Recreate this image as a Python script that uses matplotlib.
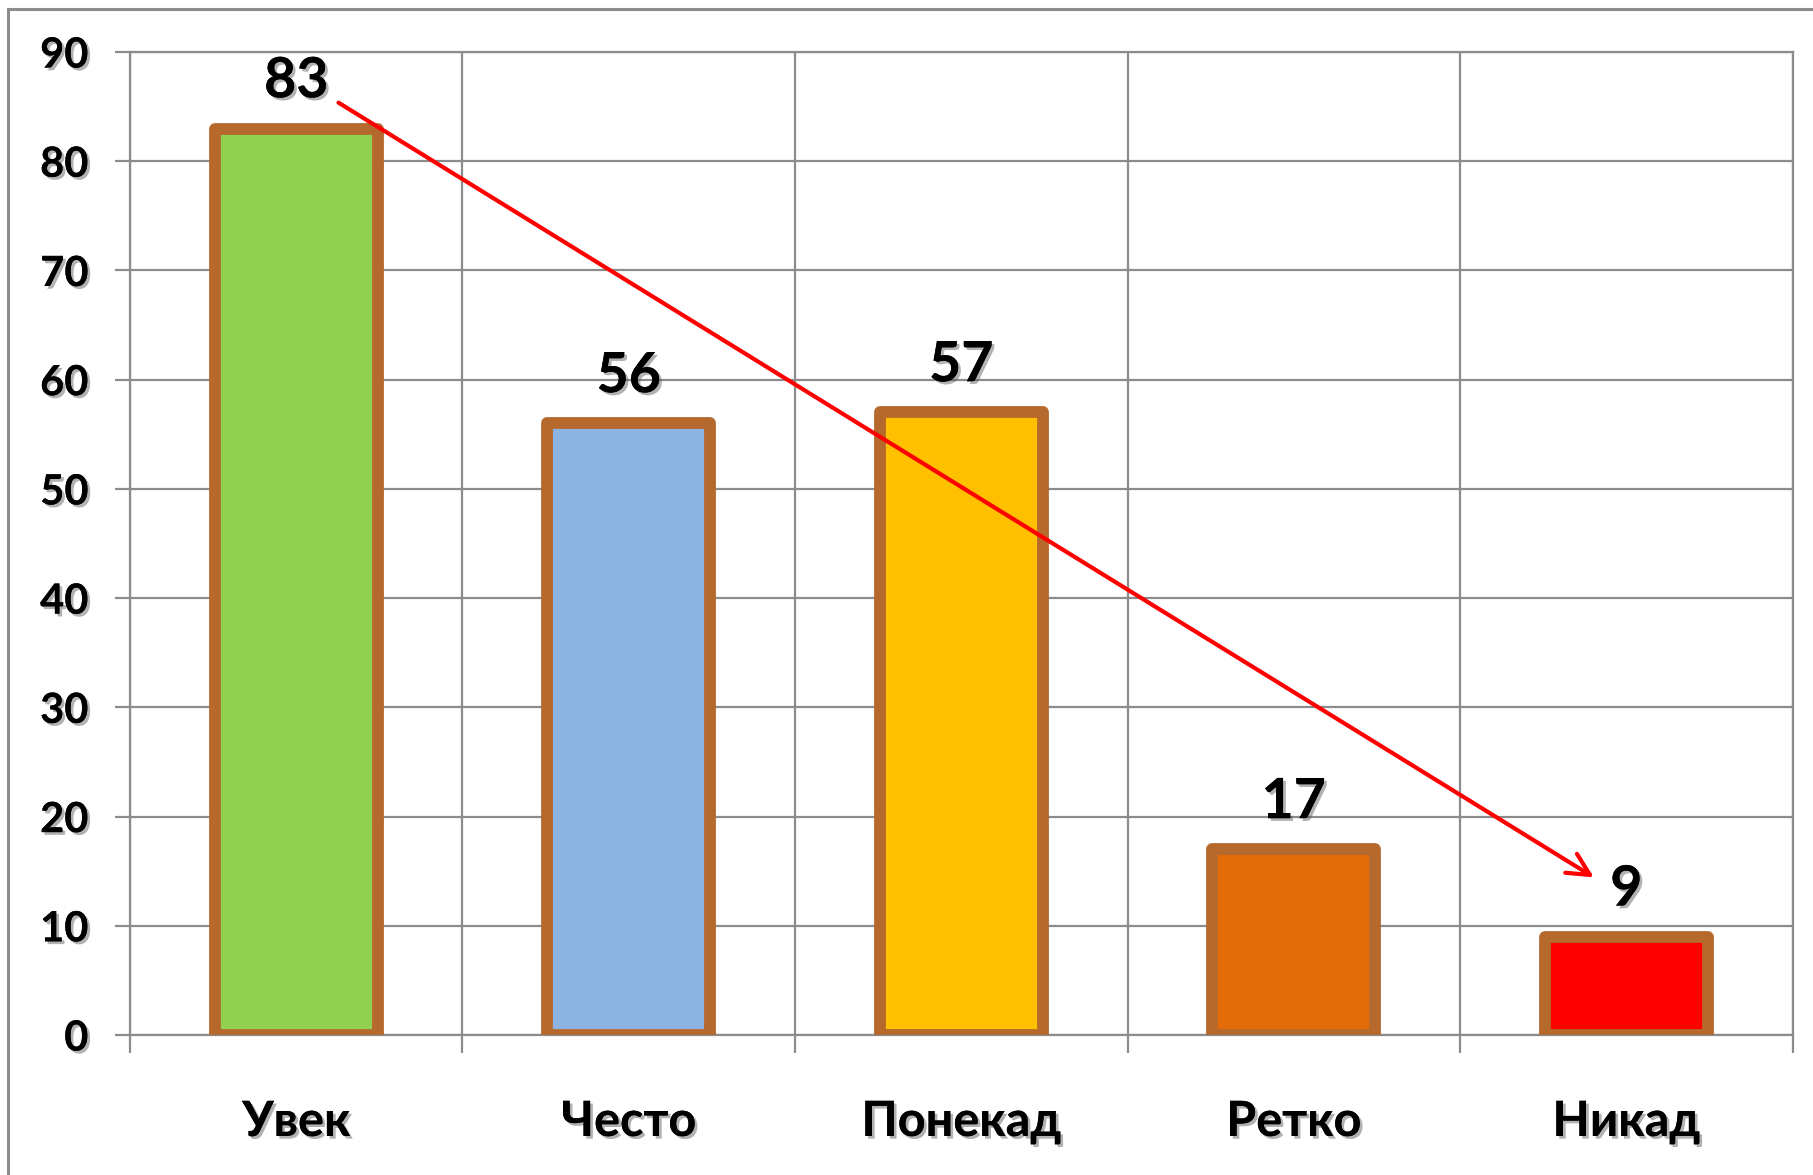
import matplotlib
matplotlib.use("Agg")
import matplotlib.pyplot as plt
import matplotlib.patheffects as pe
from matplotlib.patches import Rectangle

categories = ["Увек", "Често", "Понекад", "Ретко", "Никад"]
values = [83, 56, 57, 17, 9]
colors = ["#92D050", "#8DB3E2", "#FFC000", "#E36C09", "#FF0000"]
yticks = [0, 10, 20, 30, 40, 50, 60, 70, 80, 90]

edge = "#B5692C"
grid = "#8C8C8C"
shadow = [pe.withSimplePatchShadow(offset=(2, -2), shadow_rgbFace="#555555", alpha=0.45), pe.Normal()]

plt.rcParams['font.family'] = ['Lato', 'DejaVu Sans']

fig = plt.figure(figsize=(18.13, 11.75), dpi=100)
ax = fig.add_axes([0.0717, 0.1191, 0.917, 0.8366])

# outer chart frame
fig.patches.append(Rectangle((8 / 1813, -0.1), 1.2, 1 - 9 / 1175 + 0.1, transform=fig.transFigure,
                             fill=False, edgecolor=grid, linewidth=2.2))

x = list(range(len(categories)))
ax.bar(x, values, width=0.49, color=colors, edgecolor=edge, linewidth=8.5, joinstyle="round", zorder=3)

for i, v in enumerate(values):
    t = ax.annotate(str(v), (i, v), xytext=(0, 16), textcoords="offset points", ha="center", va="bottom",
                    fontsize=40, fontweight="bold", color="black", zorder=5)
    t.set_path_effects(shadow)

ax.set_xlim(-0.5, 4.5)
ax.set_ylim(0, 90)
ax.set_yticks(yticks)
ax.set_yticklabels([str(t) for t in yticks], fontsize=30, fontweight="bold")
ax.set_xticks(x)
ax.set_xticklabels(categories, fontsize=35, fontweight="bold")
ax.set_xticks([i - 0.5 for i in range(len(categories) + 1)], minor=True)
ax.tick_params(axis="x", which="major", length=0, pad=46)
ax.tick_params(axis="x", which="minor", length=13, width=1.6, color=grid, direction="out")
ax.tick_params(axis="y", length=11, width=1.6, color=grid, pad=19)
for lab in ax.get_xticklabels() + ax.get_yticklabels():
    lab.set_path_effects(shadow)

ax.grid(True, axis="y", which="major", color=grid, linewidth=1.6, zorder=0)
ax.grid(True, axis="x", which="minor", color=grid, linewidth=1.6, zorder=0)
for s in ax.spines.values():
    s.set_color(grid)
    s.set_linewidth(1.6)

# trend arrow from the first label to the last one
ax.annotate("", xy=(4 - 0.09, values[-1] + 5.3), xytext=(0 + 0.12, values[0] + 2.5),
            arrowprops=dict(arrowstyle="->", color="#FF0000", lw=3, mutation_scale=40), zorder=6)

fig.savefig("out.png", dpi=100)
